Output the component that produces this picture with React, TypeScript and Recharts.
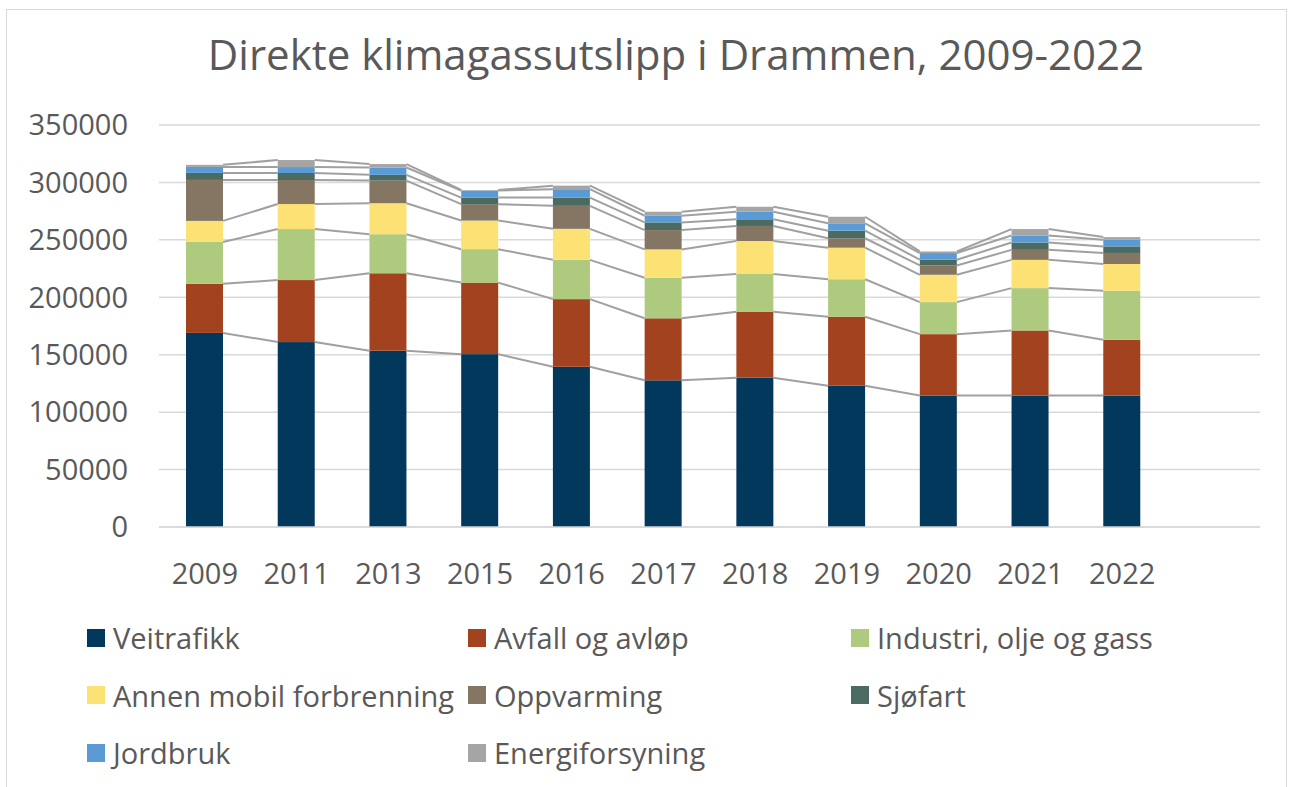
import { BarChart, Bar, XAxis, YAxis, CartesianGrid } from 'recharts'

const years = ['2009', '2011', '2013', '2015', '2016', '2017', '2018', '2019', '2020', '2021', '2022']

const veitrafikk = [169000, 161000, 153500, 150500, 139500, 127700, 130000, 123000, 114500, 114500, 114500]
const avfall = [42700, 54000, 67400, 62300, 58900, 54000, 57500, 60100, 53400, 56600, 48500]
const industri = [36500, 44400, 34000, 29100, 34200, 35300, 32800, 32600, 27900, 36900, 42700]
const annenMobil = [18300, 21800, 27000, 24900, 27000, 24700, 28700, 27500, 23800, 24600, 23300]
const oppvarming = [35700, 20900, 19700, 14300, 20000, 16800, 13100, 8200, 8100, 8700, 9600]
const sjofart = [6100, 6100, 5000, 5700, 7200, 6700, 5800, 6600, 5000, 6400, 5700]
const jordbruk = [5200, 5200, 6400, 6100, 7300, 5800, 6600, 6400, 5800, 6100, 5800]
const energiforsyning = [1800, 6100, 3000, 500, 3100, 3500, 4300, 5700, 1400, 5600, 2300]

const seriesKeys = ['veitrafikk', 'avfall', 'industri', 'annenMobil', 'oppvarming', 'sjofart', 'jordbruk', 'energiforsyning']
const seriesNames = [
  'Veitrafikk',
  'Avfall og avløp',
  'Industri, olje og gass',
  'Annen mobil forbrenning',
  'Oppvarming',
  'Sjøfart',
  'Jordbruk',
  'Energiforsyning',
]
const seriesColors = ['#01385C', '#A3421E', '#AECA7E', '#FCE175', '#857563', '#4A6A62', '#5B9BD5', '#A5A5A5']
const seriesValues = [veitrafikk, avfall, industri, annenMobil, oppvarming, sjofart, jordbruk, energiforsyning]

const yTicks = [0, 50000, 100000, 150000, 200000, 250000, 300000, 350000]

const data = years.map((year, i) => {
  const row: Record<string, string | number> = { year }
  seriesKeys.forEach((key, s) => {
    row[key] = seriesValues[s][i]
  })
  return row
})

const FONT = '"Open Sans", sans-serif'
const TEXT = '#595959'

// remember where each segment was drawn so the next bar can draw its series line
const tops: Record<string, { x: number; y: number; width: number }> = {}

const makeShape = (key: string, color: string) => (props: any) => {
  const { x, y, width, height, index } = props
  tops[`${key}-${index}`] = { x, y, width }
  const prev = index > 0 ? tops[`${key}-${index - 1}`] : undefined
  return (
    <g>
      <rect x={x} y={y} width={width} height={height} fill={color} />
      {prev && (
        <line
          x1={prev.x + prev.width}
          y1={prev.y}
          x2={x}
          y2={y}
          stroke="#A0A0A0"
          strokeWidth={2}
        />
      )}
    </g>
  )
}

const Legend = () => (
  <div
    style={{
      position: 'absolute',
      left: 87,
      top: 609,
      display: 'grid',
      gridTemplateColumns: '381px 383px 320px',
      gridAutoRows: '57.5px',
      fontFamily: FONT,
      fontSize: 29,
      color: TEXT,
    }}
  >
    {seriesNames.map((name, i) => (
      <div key={name} style={{ display: 'flex', alignItems: 'center', whiteSpace: 'nowrap' }}>
        <span style={{ width: 18, height: 18, background: seriesColors[i], marginRight: 8, flexShrink: 0 }} />
        <span>{name}</span>
      </div>
    ))}
  </div>
)

export default function App() {
  return (
    <div style={{ position: 'absolute', left: 0, top: 0, width: 1290, height: 787, background: '#fff', overflow: 'hidden' }}>
      <div
        style={{
          position: 'absolute',
          left: 6,
          top: 9,
          width: 1281,
          height: 800,
          border: '1.5px solid #D9D9D9',
          boxSizing: 'border-box',
        }}
      />
      <div style={{ position: 'absolute', left: 0, top: 0 }}>
        <BarChart
          width={1290}
          height={787}
          data={data}
          margin={{ top: 125, right: 30, bottom: 200, left: 0 }}
        >
          <text
            x={676}
            y={70}
            textAnchor="middle"
            fill={TEXT}
            style={{ fontFamily: FONT, fontSize: 42 }}
          >
            Direkte klimagassutslipp i Drammen, 2009-2022
          </text>
          <CartesianGrid vertical={false} stroke="#D9D9D9" strokeWidth={1.5} />
          <XAxis
            dataKey="year"
            height={60}
            padding={{ left: 0, right: 92 }}
            tickLine={false}
            tickSize={0}
            tickMargin={36}
            axisLine={{ stroke: '#D9D9D9', strokeWidth: 1.5 }}
            tick={{ fill: TEXT, fontSize: 29, fontFamily: FONT }}
            interval={0}
          />
          <YAxis
            width={159}
            domain={[0, 350000]}
            ticks={yTicks}
            interval={0}
            axisLine={false}
            tickLine={false}
            tickSize={0}
            tickMargin={31}
            tick={{ fill: TEXT, fontSize: 29, fontFamily: FONT }}
          />
          {seriesKeys.map((key, s) => (
            <Bar
              key={key}
              dataKey={key}
              name={seriesNames[s]}
              stackId="a"
              fill={seriesColors[s]}
              barSize={37}
              isAnimationActive={false}
              shape={makeShape(key, seriesColors[s])}
            />
          ))}
        </BarChart>
      </div>
      <Legend />
    </div>
  )
}
